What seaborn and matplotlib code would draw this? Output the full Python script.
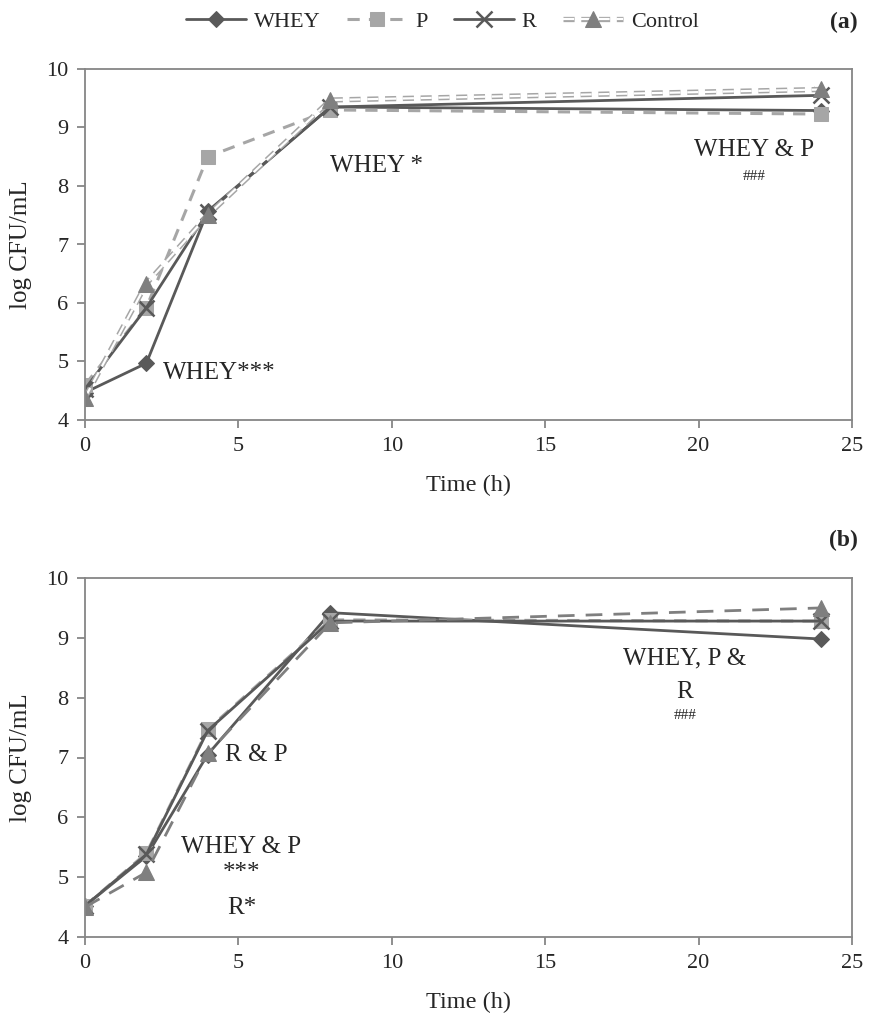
import numpy as np
import pandas as pd
import matplotlib
matplotlib.use("Agg")
import matplotlib.pyplot as plt
import matplotlib.patheffects as pe
from matplotlib.legend_handler import HandlerTuple
import seaborn as sns

sns.set_style("white")
plt.rcParams['font.family'] = ['Liberation Serif', 'DejaVu Serif']

time_h = [0, 2, 4, 8, 24]
series = ["WHEY", "P", "R", "Control"]

a_whey = [4.47, 4.97, 7.57, 9.35, 9.29]
a_p = [4.60, 5.92, 8.50, 9.30, 9.23]
a_r = [4.53, 5.92, 7.55, 9.35, 9.55]
a_control = [4.38, 6.33, 7.50, 9.47, 9.65]

b_whey = [4.52, 5.35, 7.05, 9.42, 8.98]
b_p = [4.52, 5.40, 7.47, 9.30, 9.28]
b_r = [4.52, 5.38, 7.45, 9.28, 9.28]
b_control = [4.50, 5.08, 7.07, 9.25, 9.50]

x_ticks = [0, 5, 10, 15, 20, 25]
y_ticks = [4, 5, 6, 7, 8, 9, 10]

fig = plt.figure(figsize=(8.71, 10.19), dpi=100)
W, H = 871, 1019
def rect(l, t, r, b):
    return [l / W, 1 - b / H, (r - l) / W, (b - t) / H]

ax_a = fig.add_axes(rect(85, 69, 852, 420))
ax_b = fig.add_axes(rect(85, 578, 852, 937))

dark = "#595959"
light = "#A6A6A6"
mid = "#7F7F7F"

def draw(ax, vals, panel):
    df = pd.DataFrame({"Time": time_h * 4,
                       "value": sum(vals, []),
                       "series": sum([[s] * len(time_h) for s in series], [])})
    handles = []
    for s in series:
        d = df[df.series == s]
        if s == "WHEY":
            kw = dict(color=dark, marker="D", markersize=8, linewidth=2, linestyle="-",
                      markeredgecolor=dark)
        elif s == "P":
            kw = dict(color=light, marker="s", markersize=10, linewidth=2.2, linestyle=(0, (4, 3)),
                      markeredgecolor=light)
        elif s == "R":
            kw = dict(color=dark, marker="x", markersize=11, linewidth=2, linestyle="-",
                      markeredgewidth=1.8, markeredgecolor=dark)
        else:
            if panel == "a":
                sns.lineplot(data=d, x="Time", y="value", ax=ax, legend=False,
                             color="white", linewidth=1.6, linestyle=(0, (5, 3)),
                             path_effects=[pe.Stroke(linewidth=3.8, foreground=light), pe.Normal()])
                line_h = ax.lines[-1]
                sns.lineplot(data=d, x="Time", y="value", ax=ax, legend=False,
                             linestyle="none", marker="^", markersize=11,
                             markerfacecolor=mid, markeredgecolor=mid, color=mid)
                mark_h = ax.lines[-1]
                handles.append(((line_h, mark_h), s))
                continue
            else:
                kw = dict(color=mid, marker="^", markersize=11, linewidth=2,
                          linestyle=(0, (6, 4)), markerfacecolor=mid, markeredgecolor=mid)
        sns.lineplot(data=d, x="Time", y="value", ax=ax, legend=False, **kw)
        handles.append((ax.lines[-1], s))
    ax.set_xlim(0, 25)
    ax.set_ylim(4, 10)
    ax.set_xticks(x_ticks)
    ax.set_yticks(y_ticks)
    ax.tick_params(axis="both", labelsize=16, length=6, width=1.3, color="#868686",
                   direction="out", left=True, bottom=True, pad=6)
    for sp in ax.spines.values():
        sp.set_color("#868686")
        sp.set_linewidth(1.3)
        sp.set_visible(True)
    ax.set_xlabel("Time (h)", fontsize=17.5, labelpad=14)
    ax.set_ylabel("log CFU/mL", fontsize=18, labelpad=10)
    return handles

handles_a = draw(ax_a, [a_whey, a_p, a_r, a_control], "a")
draw(ax_b, [b_whey, b_p, b_r, b_control], "b")

fs = 18
ax_a.text(2.55, 4.8, "WHEY***", fontsize=fs, ha="left", va="center")
ax_a.text(9.5, 8.35, "WHEY *", fontsize=fs, ha="center", va="center")
ax_a.text(21.8, 8.61, "WHEY & P", fontsize=fs, ha="center", va="center")
ax_a.text(21.8, 8.16, "###", fontsize=11, ha="center", va="center")

ax_b.text(5.6, 7.04, "R & P", fontsize=fs, ha="center", va="center")
ax_b.text(5.1, 5.5, "WHEY & P", fontsize=fs, ha="center", va="center")
ax_b.text(5.1, 5.07, "***", fontsize=fs, ha="center", va="center")
ax_b.text(5.1, 4.48, "R*", fontsize=fs, ha="center", va="center")
ax_b.text(19.55, 8.66, "WHEY, P &", fontsize=fs, ha="center", va="center")
ax_b.text(19.55, 8.1, "R", fontsize=fs, ha="center", va="center")
ax_b.text(19.55, 7.7, "###", fontsize=11, ha="center", va="center")

fig.legend([h for h, _ in handles_a], [l for _, l in handles_a], loc="center",
           bbox_to_anchor=(0.508, 1 - 22 / H), ncol=4, frameon=False, fontsize=16,
           handlelength=2.7, columnspacing=1.2, handletextpad=0.35,
           handler_map={tuple: HandlerTuple(ndivide=1)})

fig.text(0.985, 1 - 22 / H, "(a)", fontsize=17, fontweight="bold", ha="right", va="center")
fig.text(0.985, 1 - 540 / H, "(b)", fontsize=17, fontweight="bold", ha="right", va="center")

fig.savefig("out.png", dpi=100)
